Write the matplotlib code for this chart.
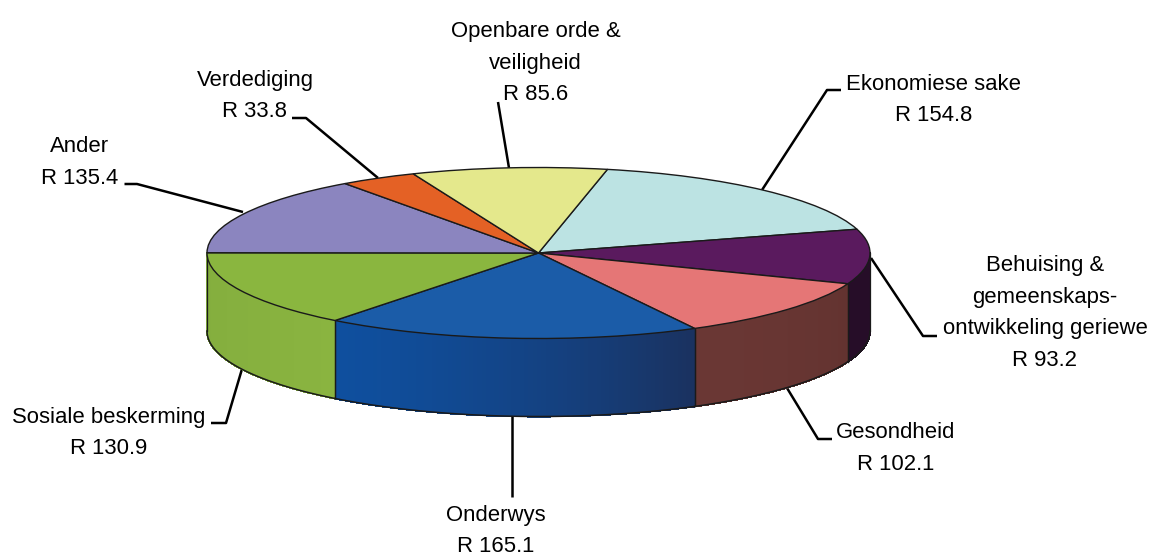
import numpy as np
import matplotlib
matplotlib.use("Agg")
import matplotlib.pyplot as plt
from matplotlib.colors import to_rgb
from matplotlib.transforms import Affine2D

plt.rcParams['font.family'] = ['Liberation Sans', 'DejaVu Sans']

names = ["Ekonomiese sake", "Behuising &\ngemeenskaps-\nontwikkeling geriewe", "Gesondheid",
         "Onderwys", "Sosiale beskerming", "Ander", "Verdediging", "Openbare orde &\nveiligheid"]
values = [154.8, 93.2, 102.1, 165.1, 130.9, 135.4, 33.8, 85.6]
top_colors = ["#BCE3E3", "#5A1A5E", "#E57676", "#1B5CA8", "#8AB63F", "#8B85BF", "#E46125", "#E4E88C"]
side_left = ["#BCE3E3", "#260D28", "#6A3734", "#0F4F9E", "#84AE3E", "#8B85BF", "#E46125", "#E4E88C"]
side_right = ["#BCE3E3", "#260D28", "#633330", "#1A3260", "#8AB440", "#8B85BF", "#E46125", "#E4E88C"]
label_pos = [(933.5, 100), (1045, 313), (896, 448.5), (496, 531), (109, 433), (80, 162.5), (255, 96), (535.5, 63)]
leaders = [[(841, 90), (827, 90), (762, 190)],
           [(871, 258), (923, 336), (937, 336)],
           [(787, 388), (818, 439), (832, 439)],
           [(511.5, 416), (511.5, 497)],
           [(242, 369), (226, 423), (211, 423)],
           [(124.5, 184), (137, 184), (243, 212)],
           [(292, 118), (306, 118), (378, 178)],
           [(498, 102), (509, 168)]]

CX, CY, RX, RY, DEPTH = 538.5, 253, 331.5, 85.5, 78

fig = plt.figure(figsize=(11.5, 5.56), dpi=100)
ax = fig.add_axes([0, 0, 1, 1])

wedges, _ = ax.pie(values, colors=top_colors, startangle=78, counterclock=False,
                   wedgeprops=dict(edgecolor="#1a1a1a", linewidth=1.0))
ax.set_aspect('auto')
ax.set_xlim(0, 1150)
ax.set_ylim(556, 0)
ax.axis('off')

squash = Affine2D().scale(RX, -RY).translate(CX, CY) + ax.transData
for w in wedges:
    w.set_transform(squash)
    w.set_zorder(5)

# Extruded rim: only the front half of the ellipse is visible
for w, cl, cr in zip(wedges, side_left, side_right):
    lo, hi = w.theta1 % 360, w.theta2 % 360
    if hi <= lo:
        hi += 360
    lo2, hi2 = max(lo, 180), min(hi, 360)
    if hi2 <= lo2:
        continue
    ts = np.radians(np.linspace(lo2, hi2, 90))
    xs = CX + RX * np.cos(ts)
    ys = CY - RY * np.sin(ts)
    c0, c1 = np.array(to_rgb(cl)), np.array(to_rgb(cr))
    for i in range(len(ts) - 1):
        f = (i / (len(ts) - 2)) ** 1.5
        col = c0 * (1 - f) + c1 * f
        ax.fill([xs[i], xs[i + 1], xs[i + 1], xs[i]],
                [ys[i], ys[i + 1], ys[i + 1] + DEPTH, ys[i] + DEPTH],
                facecolor=col, edgecolor=col, linewidth=0.8, antialiased=False, zorder=2)
    ax.plot(xs, ys + DEPTH, color="#1a1a1a", lw=1.1, zorder=3)
    for x, y in ((xs[0], ys[0]), (xs[-1], ys[-1])):
        ax.plot([x, x], [y, y + DEPTH], color="#1a1a1a", lw=0.9, zorder=3)

for pts in leaders:
    p = np.array(pts)
    ax.plot(p[:, 0], p[:, 1], color="black", lw=1.8, zorder=1, solid_capstyle='butt')

for name, v, (x, y) in zip(names, values, label_pos):
    ax.text(x, y, f"{name}\nR {v}", ha='center', va='center', fontsize=15.9,
            linespacing=1.68, color="black", zorder=6)

fig.savefig("out.png", dpi=100)
